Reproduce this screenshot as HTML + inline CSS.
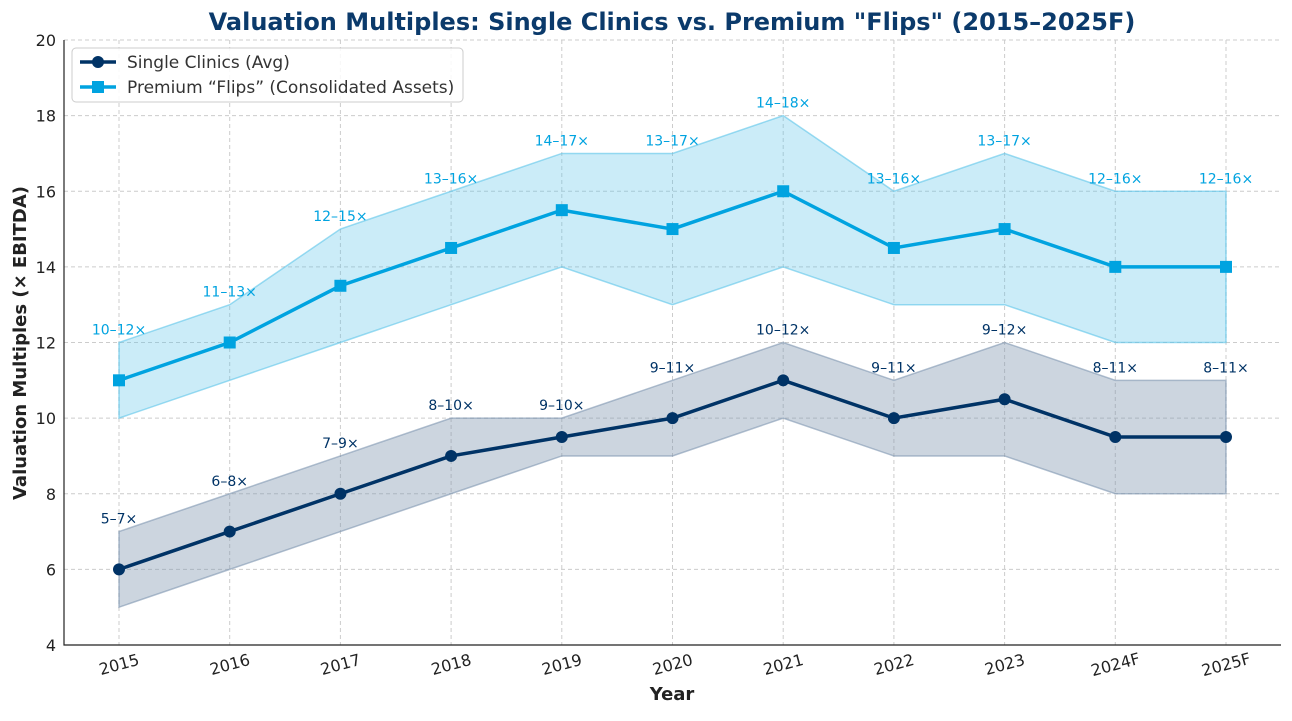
<!DOCTYPE html>
<html><head><meta charset="utf-8"><style>
body{margin:0;background:#fff;font-family:"Liberation Sans","DejaVu Sans",sans-serif}
svg text{font-family:"DejaVu Sans","Liberation Sans",sans-serif}
</style></head><body>
<svg id="chart" width="1292" height="716" xmlns="http://www.w3.org/2000/svg">
<text x="672" y="30" text-anchor="middle" font-size="24" font-weight="bold" fill="#0b3a6b">Valuation Multiples: Single Clinics vs. Premium "Flips" (2015–2025F)</text>
<g id="grid"></g><g id="marks"></g><g id="axes"></g>
<text x="672" y="700" text-anchor="middle" font-size="18" font-weight="bold" fill="#222">Year</text>
<text transform="translate(26,343) rotate(-90)" text-anchor="middle" font-size="18" font-weight="bold" fill="#222">Valuation Multiples (× EBITDA)</text>
<g>
<rect x="72" y="48" width="391" height="54" rx="4" fill="#fff" fill-opacity="0.85" stroke="#ccc"/>
<line x1="80" y1="62" x2="116" y2="62" stroke="#003366" stroke-width="3.5"/><circle cx="98" cy="62" r="6" fill="#003366"/>
<text x="127" y="68" font-size="17" fill="#333">Single Clinics (Avg)</text>
<line x1="80" y1="87" x2="116" y2="87" stroke="#00a3e0" stroke-width="3.5"/><rect x="92" y="81" width="12" height="12" fill="#00a3e0"/>
<text x="127" y="93" font-size="17" fill="#333">Premium “Flips” (Consolidated Assets)</text>
</g>
</svg>
<script>
const years=["2015","2016","2017","2018","2019","2020","2021","2022","2023","2024F","2025F"];
const singleAvg=[6,7,8,9,9.5,10,11,10,10.5,9.5,9.5];
const singleLow=[5,6,7,8,9,9,10,9,9,8,8];
const singleHigh=[7,8,9,10,10,11,12,11,12,11,11];
const singleLabels=["5–7×","6–8×","7–9×","8–10×","9–10×","9–11×","10–12×","9–11×","9–12×","8–11×","8–11×"];
const premAvg=[11,12,13.5,14.5,15.5,15,16,14.5,15,14,14];
const premLow=[10,11,12,13,14,13,14,13,13,12,12];
const premHigh=[12,13,15,16,17,17,18,16,17,16,16];
const premLabels=["10–12×","11–13×","12–15×","13–16×","14–17×","13–17×","14–18×","13–16×","13–17×","12–16×","12–16×"];
const yTicks=[4,6,8,10,12,14,16,18,20];
const L=64,R=1281,T=40,B=645;
const xs=i=>119+i*(1226-119)/(years.length-1);
const ys=v=>B-(v-4)/(20-4)*(B-T);
const NS="http://www.w3.org/2000/svg";
function mk(tag,at,parent){const e=document.createElementNS(NS,tag);for(const k in at)e.setAttribute(k,at[k]);document.getElementById(parent).appendChild(e);return e;}
yTicks.forEach(v=>{
 const g=mk('line',{x1:L,x2:R,y1:ys(v),y2:ys(v),stroke:'#ccc','stroke-dasharray':'4,3','stroke-width':1},'grid');
 
 
 const t=mk('text',{x:L-8,y:ys(v)+6,'text-anchor':'end','font-size':16,fill:'#222'},'axes');t.textContent=v;
 
 
});
years.forEach((y,i)=>{
 const g=mk('line',{x1:xs(i),x2:xs(i),y1:T,y2:B,stroke:'#ccc','stroke-dasharray':'4,3','stroke-width':1},'grid');
 
 
 const t=mk('text',{x:xs(i),y:670,'text-anchor':'middle','font-size':16,fill:'#222',transform:`rotate(-15 ${xs(i)} 664)`},'axes');t.textContent=y;
 
 
});
const ax=mk('path',{d:`M${L},${T} V${B} H${R}`,fill:'none',stroke:'#222','stroke-width':1.2},'axes');


function series(avg,lo,hi,labels,col,fill,fop,square,name){
 let d=lo.map((v,i)=>(i?'L':'M')+xs(i)+','+ys(v)).join('')+hi.map((v,i)=>i).reverse().map(i=>'L'+xs(i)+','+ys(hi[i])).join('')+'Z';
 const band=mk('path',{d,fill:fill,'fill-opacity':fop,stroke:fill,'stroke-opacity':0.6,'stroke-width':1.5},'marks');
 
 
 const ln=mk('polyline',{points:avg.map((v,i)=>xs(i)+','+ys(v)).join(' '),fill:'none',stroke:col,'stroke-width':3.5},'marks');
 
 
 avg.forEach((v,i)=>{
  const p=square?mk('rect',{x:xs(i)-6,y:ys(v)-6,width:12,height:12,fill:col},'marks'):mk('circle',{cx:xs(i),cy:ys(v),r:6,fill:col},'marks');
  
  
  const t=mk('text',{x:xs(i),y:ys(hi[i])-8,'text-anchor':'middle','font-size':14,fill:col},'marks');t.textContent=labels[i];
  
  
 });
}
series(singleAvg,singleLow,singleHigh,singleLabels,'#003366','#7f96b0',0.4,false,'single-clinics');
series(premAvg,premLow,premHigh,premLabels,'#00a3e0','#5cc4ea',0.32,true,'premium-flips');
</script>
</body></html>
